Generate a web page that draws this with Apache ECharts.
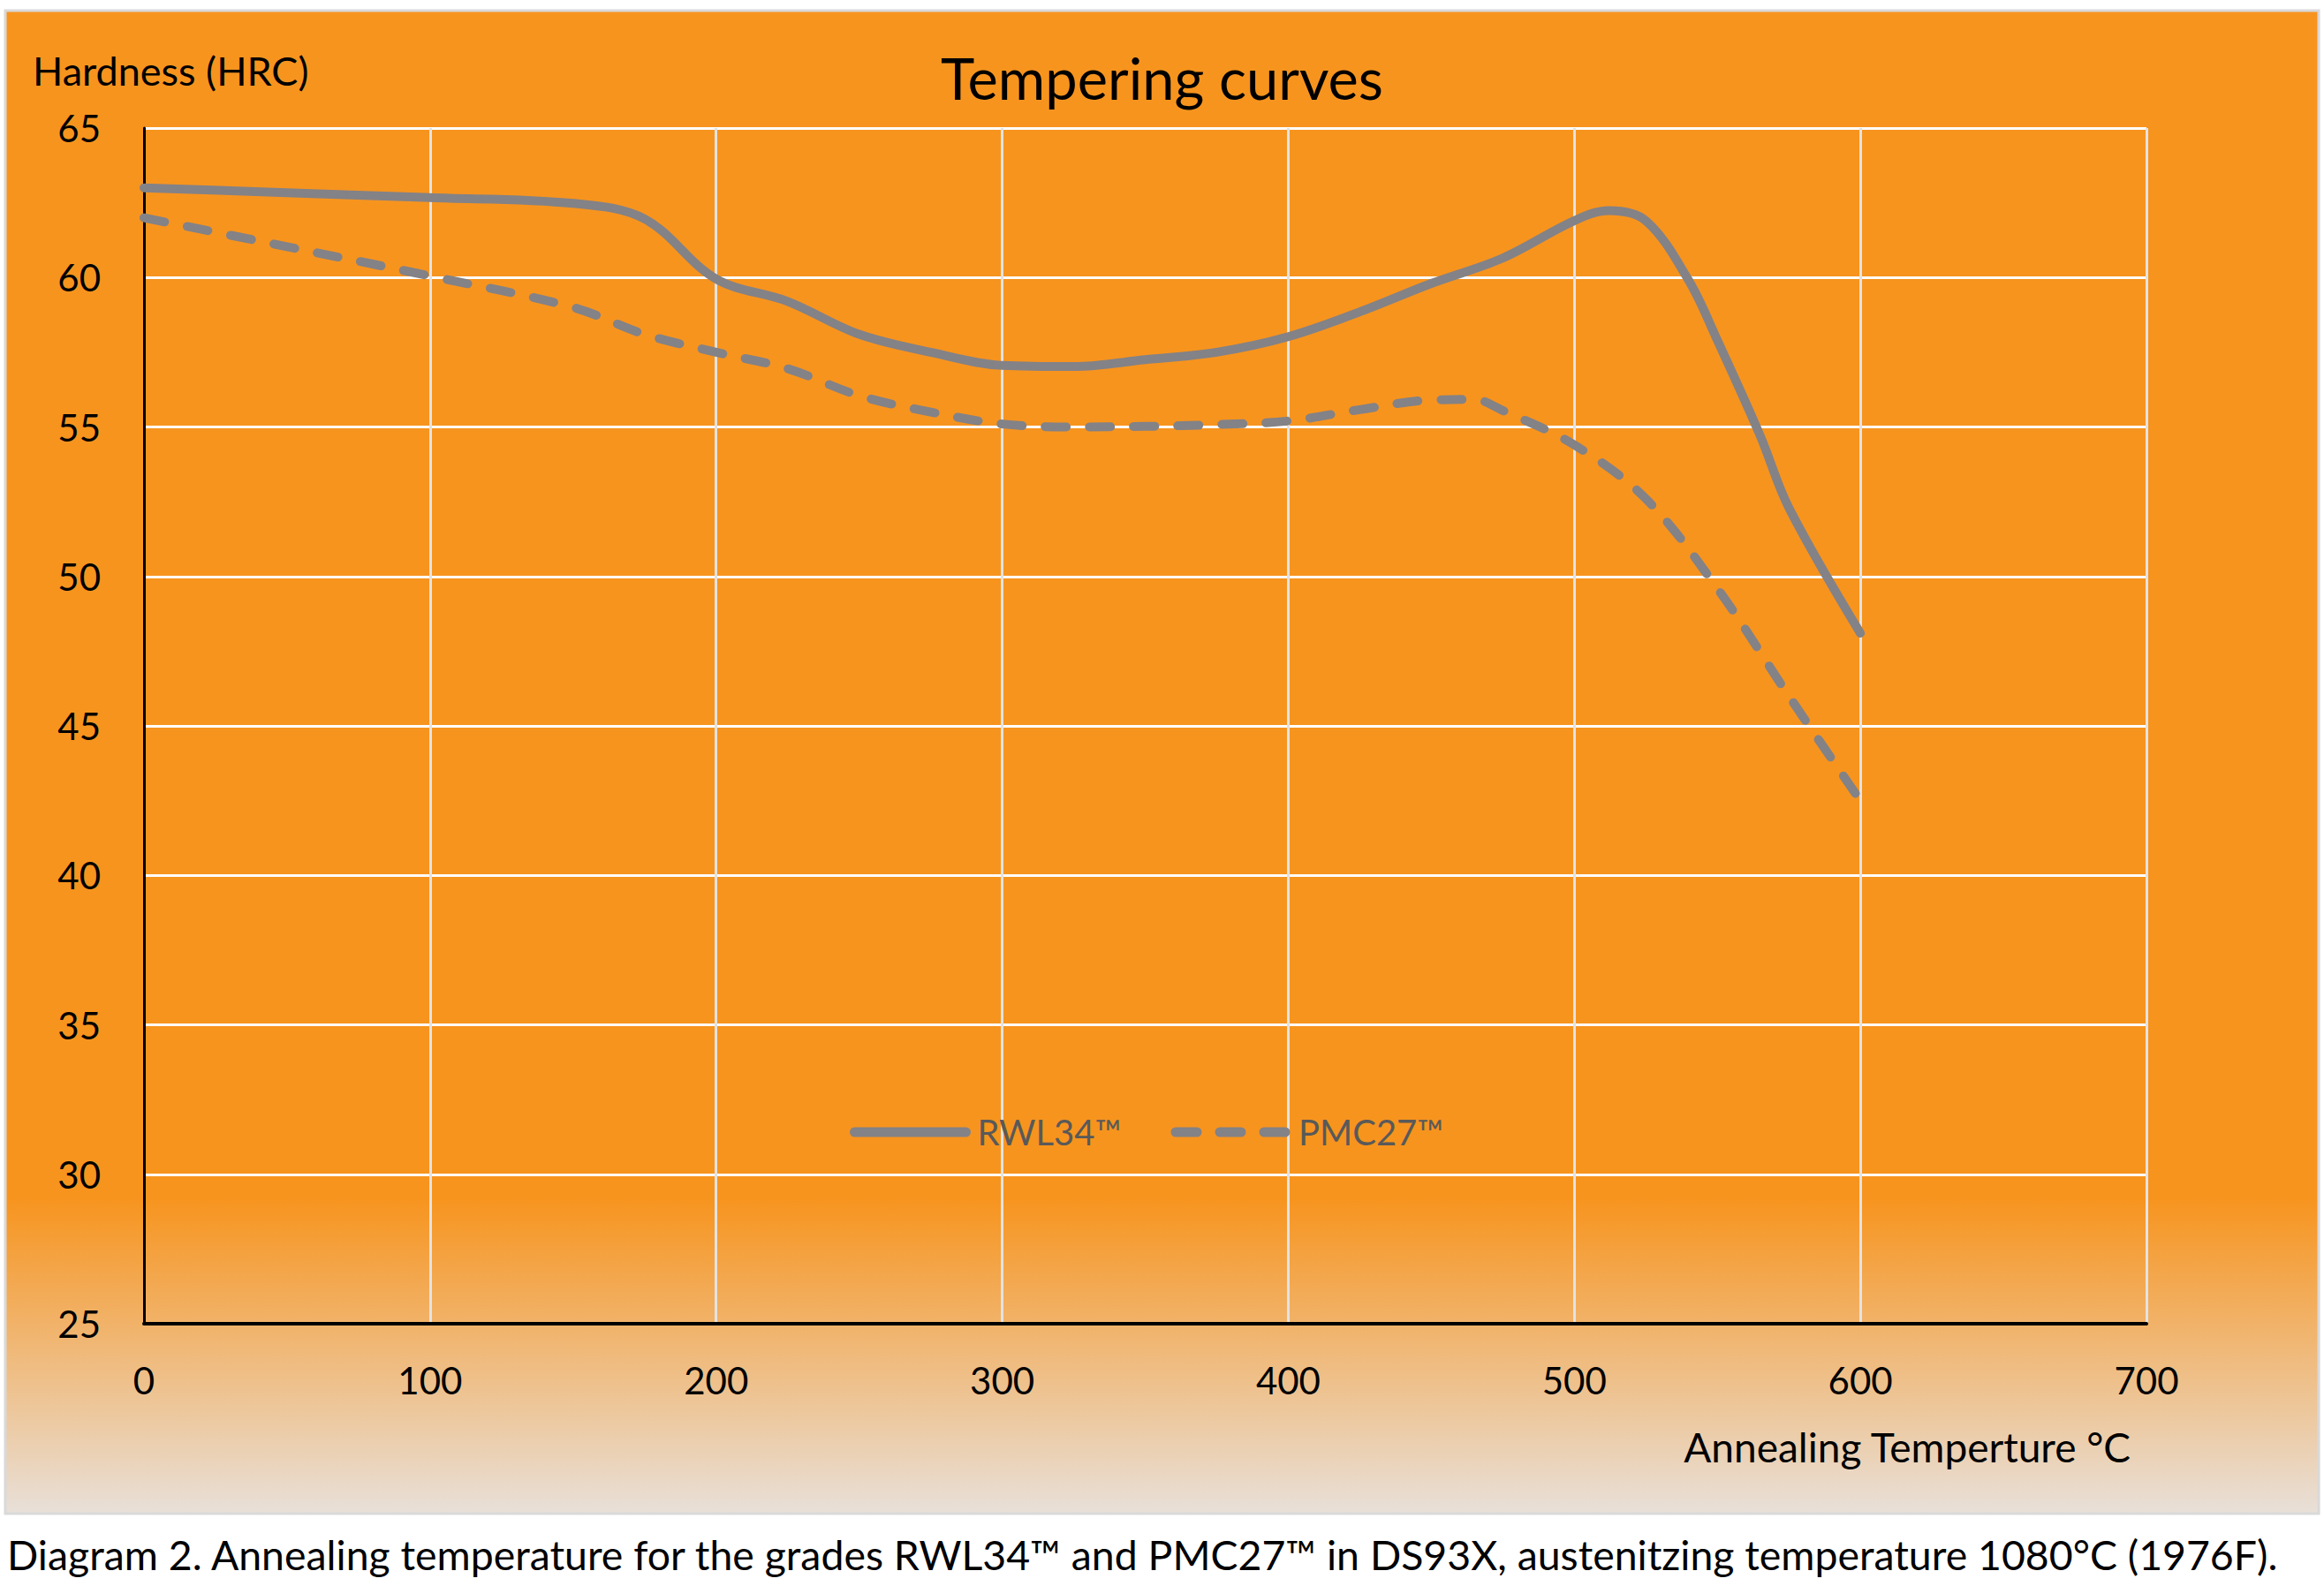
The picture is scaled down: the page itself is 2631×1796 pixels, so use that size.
<!DOCTYPE html>
<html>
<head>
<meta charset="utf-8">
<script src="https://cdn.jsdelivr.net/npm/echarts@6/dist/echarts.min.js"></script>
<style>
html,body{margin:0;padding:0;background:#ffffff;}
#chart{width:2631px;height:1796px;}
</style>
</head>
<body>
<div id="chart"></div>
<script>
// ---- data ----
const seriesNames = ['RWL34™', 'PMC27™'];
const rwlTemp     = [0, 100, 150, 175, 200, 225, 250, 275, 300, 325, 350, 375, 400, 425, 450, 475, 500, 512, 525, 540, 550, 565, 575, 600];
const rwlHardness = [63.0, 62.67, 62.48, 61.96, 59.95, 59.2, 58.1, 57.5, 57.06, 57.02, 57.25, 57.5, 58.02, 58.85, 59.8, 60.65, 61.9, 62.24, 61.9, 59.9, 57.9, 54.7, 52.3, 48.1];
const pmcTemp     = [0, 50, 100, 150, 175, 200, 225, 250, 275, 300, 325, 350, 375, 400, 425, 450, 465, 475, 500, 525, 550, 575, 600];
const pmcHardness = [62.0, 61.03, 60.05, 59.0, 58.1, 57.5, 56.95, 56.05, 55.5, 55.1, 55.0, 55.02, 55.08, 55.2, 55.58, 55.9, 55.92, 55.55, 54.4, 52.6, 49.6, 46.0, 42.5];
const xTicks = { min: 0, max: 700, interval: 100 };
const yTicks = { min: 25, max: 65, interval: 5 };
const titleText = 'Tempering curves';
const yAxisName = 'Hardness (HRC)';
const xAxisName = 'Annealing Temperture °C';
const captionText = 'Diagram 2. Annealing temperature for the grades RWL34™ and PMC27™ in DS93X, austenitzing temperature 1080°C (1976F).';

const FONT = 'Lato, "Open Sans", sans-serif';
const LINE_COLOR = '#838287';
const DASH = [24, 26];

const chart = echarts.init(document.getElementById('chart'), null, { renderer: 'svg' });

const rwlData = rwlTemp.map((t, i) => [t, rwlHardness[i]]);
const pmcData = pmcTemp.map((t, i) => [t, pmcHardness[i]]);

chart.setOption({
  animation: false,
  backgroundColor: '#ffffff',
  title: {
    text: titleText,
    left: 'center',
    top: 50,
    textStyle: { fontFamily: FONT, fontSize: 65, fontWeight: 'normal', color: '#000000' }
  },
  legend: {
    data: [
      { name: seriesNames[0], lineStyle: { width: 11, cap: 'round', color: LINE_COLOR } },
      { name: seriesNames[1], lineStyle: { width: 11, cap: 'round', type: DASH, color: LINE_COLOR } }
    ],
    left: 957,
    top: 1257,
    itemWidth: 126,
    itemHeight: 14,
    itemGap: 56,
    itemStyle: { opacity: 0 },
    textStyle: { fontFamily: FONT, fontSize: 40, color: '#595959', padding: [0, 0, 0, 8] }
  },
  grid: { left: 163, right: 201, top: 145, bottom: 297 },
  xAxis: {
    type: 'value',
    min: xTicks.min, max: xTicks.max, interval: xTicks.interval,
    axisLine: { show: true, onZero: false, lineStyle: { color: '#000000', width: 4 } },
    axisTick: { show: false },
    axisLabel: { fontFamily: FONT, fontSize: 42, color: '#000000', margin: 43 },
    splitLine: { show: true, lineStyle: { color: '#E3E3E3', width: 3 } }
  },
  yAxis: {
    type: 'value',
    min: yTicks.min, max: yTicks.max, interval: yTicks.interval,
    axisLine: { show: true, onZero: false, lineStyle: { color: '#000000', width: 3 } },
    axisTick: { show: false },
    axisLabel: { fontFamily: FONT, fontSize: 42, color: '#000000', margin: 49 },
    splitLine: { show: true, lineStyle: { color: '#FFFFFF', width: 3 } }
  },
  graphic: {
    elements: [
      {
        type: 'rect', z: -100, silent: true,
        shape: { x: 6, y: 12, width: 2619, height: 1702 },
        style: {
          fill: new echarts.graphic.LinearGradient(0, 0, 0, 1, [
            { offset: 0, color: '#F7941E' },
            { offset: 0.79, color: '#F7941E' },
            { offset: 1, color: '#E8E0D9' }
          ]),
          stroke: '#D9D9D9', lineWidth: 3
        }
      },
      {
        type: 'text', x: 37, y: 80, z: 10,
        style: { text: yAxisName, font: '45px ' + FONT, fill: '#000000', align: 'left', verticalAlign: 'middle' }
      },
      {
        type: 'text', x: 2412, y: 1638, z: 10,
        style: { text: xAxisName, font: '46px ' + FONT, fill: '#000000', align: 'right', verticalAlign: 'middle' }
      },
      {
        type: 'text', x: 8, y: 1760, z: 10,
        style: { text: captionText, font: '46.4px ' + FONT, fill: '#000000', align: 'left', verticalAlign: 'middle' }
      }
    ]
  },
  series: [
    {
      name: seriesNames[0], type: 'line', data: rwlData,
      symbol: 'none', showSymbol: false, smooth: 0.35,
      lineStyle: { color: LINE_COLOR, width: 10, cap: 'round', join: 'round' },
      itemStyle: { color: LINE_COLOR }
    },
    {
      name: seriesNames[1], type: 'line', data: pmcData,
      symbol: 'none', showSymbol: false, smooth: 0.35,
      lineStyle: { color: LINE_COLOR, width: 10, type: DASH, cap: 'round', join: 'round' },
      itemStyle: { color: LINE_COLOR }
    }
  ]
});
</script>
</body>
</html>
